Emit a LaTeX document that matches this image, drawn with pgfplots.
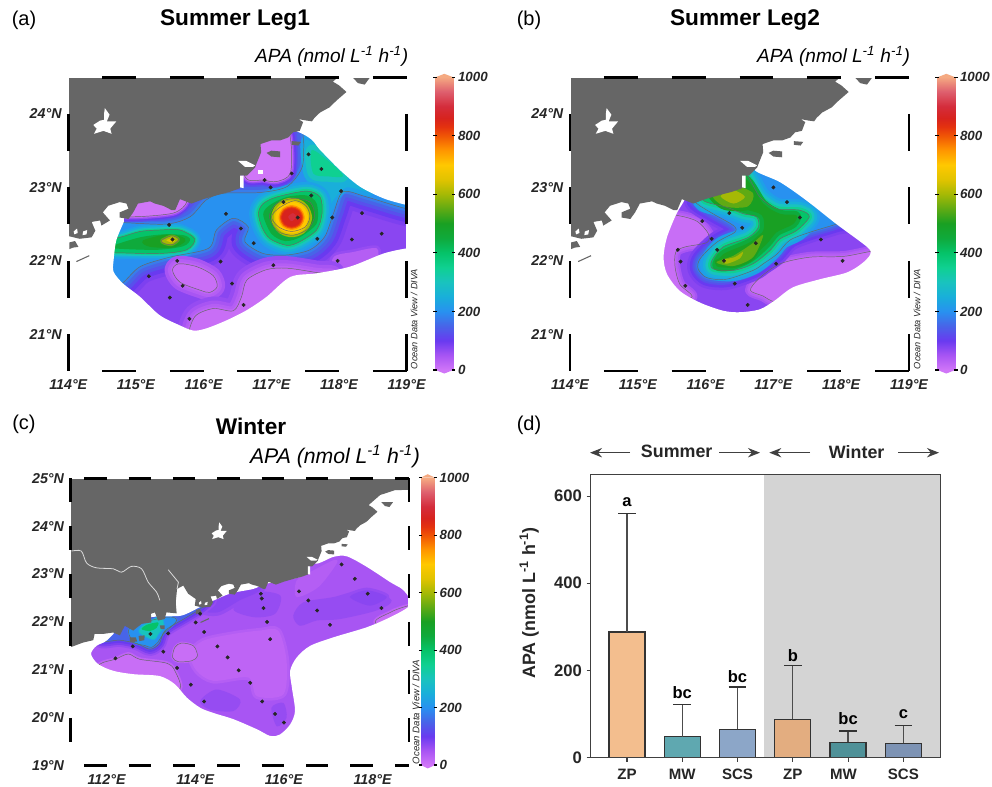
\documentclass[border=0pt]{standalone}
\usepackage{fontspec}
\setmainfont{Liberation Sans}
\usepackage{pgfplots}
\usepackage{pgfplotstable}
\pgfplotsset{compat=1.18}
\usetikzlibrary{arrows.meta}
\definecolor{c0}{RGB}{208,118,248}\definecolor{c15}{RGB}{200,110,246}\definecolor{c30}{RGB}{190,100,245}
\definecolor{c40}{RGB}{180,94,244}\definecolor{c50}{RGB}{168,85,243}\definecolor{c60}{RGB}{150,76,242}
\definecolor{c70}{RGB}{138,70,241}\definecolor{c80}{RGB}{125,64,240}\definecolor{c100}{RGB}{105,58,240}
\definecolor{c125}{RGB}{88,80,236}\definecolor{c150}{RGB}{72,100,232}\definecolor{c175}{RGB}{56,125,235}
\definecolor{c200}{RGB}{40,145,240}\definecolor{c225}{RGB}{30,160,232}\definecolor{c250}{RGB}{25,175,218}
\definecolor{c300}{RGB}{25,195,190}\definecolor{c350}{RGB}{15,208,145}\definecolor{c400}{RGB}{5,195,105}
\definecolor{c450}{RGB}{15,170,60}\definecolor{c500}{RGB}{25,160,35}\definecolor{c550}{RGB}{95,170,20}
\definecolor{c600}{RGB}{165,185,5}\definecolor{c650}{RGB}{225,195,0}\definecolor{c700}{RGB}{255,200,0}
\definecolor{c750}{RGB}{255,150,0}\definecolor{c800}{RGB}{240,85,5}\definecolor{c830}{RGB}{228,50,15}
\definecolor{c860}{RGB}{215,35,30}\definecolor{c900}{RGB}{212,45,60}\definecolor{c1000}{RGB}{245,170,130}
\definecolor{land}{RGB}{102,102,102}
\definecolor{bA}{RGB}{243,190,142}\definecolor{bB}{RGB}{95,168,176}\definecolor{bC}{RGB}{140,166,200}
\definecolor{bD}{RGB}{227,173,128}\definecolor{bE}{RGB}{79,145,152}\definecolor{bF}{RGB}{125,147,180}
\newcommand\tb[2]{\pgfplotstableread[row sep=\\]{lon lat\\ #1}#2}
% shared geography
\tb{110 21.48\\111.21 21.48\\111.47 21.57\\111.70 21.62\\111.73 21.75\\111.92 21.75\\112.15 21.78\\112.30 21.72\\112.41 21.92\\112.60 21.82\\112.79 21.96\\113.01 21.99\\113.00 22.17\\113.09 22.20\\113.16 22.03\\113.31 22.06\\113.35 22.20\\113.58 22.18\\113.56 22.41\\113.59 22.69\\113.73 22.76\\113.84 22.59\\114.01 22.48\\113.99 22.34\\114.17 22.30\\114.345 22.32\\114.40 22.41\\114.345 22.53\\114.47 22.55\\114.49 22.48\\114.615 22.55\\114.51 22.66\\114.59 22.75\\114.76 22.80\\114.86 22.78\\114.89 22.71\\114.76 22.66\\114.76 22.59\\114.89 22.57\\114.96 22.66\\115.03 22.78\\115.21 22.81\\115.28 22.78\\115.40 22.75\\115.53 22.69\\115.58 22.69\\115.65 22.84\\115.82 22.78\\115.995 22.84\\116.22 22.90\\116.39 22.94\\116.54 22.99\\116.55 23.16\\116.64 23.16\\116.76 23.27\\116.78 23.32\\116.85 23.48\\116.84 23.59\\117.0 23.64\\117.13 23.64\\117.25 23.68\\117.32 23.75\\117.42 23.77\\117.47 23.89\\117.40 23.93\\117.52 23.91\\117.60 23.90\\117.64 23.95\\117.72 24.02\\117.86 24.09\\117.96 24.18\\118.11 24.30\\118.0 24.39\\117.91 24.44\\118.17 24.65\\118.50 24.75\\118.81 24.76\\118.85 25.2\\118.85 30\\110 30\\}{\tLand}
\tb{114.54 24.08\\114.61 23.99\\114.57 23.90\\114.71 23.90\\114.62 23.80\\114.64 23.73\\114.52 23.77\\114.38 23.73\\114.42 23.80\\114.37 23.85\\114.47 23.91\\114.53 23.92\\114.53 24.01\\}{\tLake}
\tb{116.93 23.47\\117.0 23.50\\117.13 23.49\\117.13 23.41\\117.0 23.42\\}{\tIsA}
\tb{117.30 23.63\\117.44 23.62\\117.40 23.57\\117.30 23.58\\}{\tIsB}
\tb{118.20 24.50\\118.46 24.50\\118.38 24.40\\118.28 24.42\\}{\tIsD}
\tb{114.015 22.25\\114.10 22.27\\114.15 22.19\\114.07 22.18\\114.015 22.16\\}{\tIsE}
\tb{112.52 21.68\\112.66 21.68\\112.69 21.59\\112.53 21.58\\}{\tIsF}
\tb{112.72 21.71\\112.86 21.72\\112.85 21.62\\112.74 21.60\\}{\tIsG}
\tb{113.2 21.93\\113.31 21.93\\113.31 21.85\\113.22 21.85\\}{\tIsH}
\tb{116.51 23.36\\116.63 23.36\\116.76 23.30\\116.73 23.28\\116.61 23.28\\}{\tWa}
\tb{116.54 23.16\\116.59 23.16\\116.59 22.99\\116.54 23.0\\}{\tWb}
\tb{116.80 23.24\\116.87 23.24\\116.87 23.18\\116.80 23.18\\}{\tWc}
\tb{113.58 22.18\\113.56 22.41\\113.59 22.69\\113.73 22.76\\113.84 22.59\\114.01 22.48\\113.99 22.34\\113.84 22.27\\}{\tEst}
\tb{114.22 22.40\\114.28 22.42\\114.27 22.36\\114.21 22.35\\}{\tSpA}
\tb{114.08 22.40\\114.13 22.44\\114.14 22.38\\114.09 22.36\\}{\tSpB}
\tb{110 15\\125 15\\125 30\\110 30\\}{\tBig}
% panel a
\tb{116.5 28\\116.5 25.5\\116.5 24.6\\116.6 24.1\\117.50 23.71\\117.72 23.51\\118.01 23.24\\118.31 23.01\\118.66 22.85\\119.0 22.76\\119.3 22.70\\119.3 22.20\\119.0 22.17\\118.66 22.10\\118.16 21.92\\117.67 21.83\\117.28 21.78\\116.93 21.51\\116.64 21.33\\116.34 21.19\\116.04 21.08\\115.85 21.05\\115.65 21.12\\115.35 21.26\\115.06 21.51\\114.81 21.69\\114.67 21.85\\114.67 22.01\\114.71 22.28\\114.82 22.53\\114.86 22.65\\115.3 23.1\\116.0 23.6\\116.45 24.0\\116.45 24.6\\116.45 25.5\\116.45 28\\105 28\\105 15\\125 15\\125 28\\}{\tAM}
\tb{114.47 22.52\\114.81 22.52\\115.45 22.50\\115.80 22.60\\116.04 22.83\\116.29 22.92\\116.83 22.93\\117.23 23.01\\117.45 23.26\\117.48 23.55\\117.50 23.83\\117.92 23.83\\119.4 22.83\\119.4 22.68\\119.0 22.71\\118.41 22.87\\118.06 22.94\\117.92 22.65\\117.79 22.33\\117.57 22.15\\117.23 22.08\\116.88 22.10\\116.61 22.26\\116.66 22.46\\116.44 22.58\\116.19 22.42\\116.07 22.17\\115.50 22.05\\115.06 21.92\\114.79 21.69\\114.47 21.55\\}{\tAR}
\tb{117.52 23.65\\118.11 23.19\\118.46 22.94\\118.11 23.0\\117.92 22.83\\117.82 22.69\\117.74 22.96\\117.55 23.15\\}{\tANEa}
\tb{117.60 23.51\\117.92 23.30\\118.06 23.15\\117.84 23.15\\117.62 23.19\\}{\tANEb}
\tb{114.42 22.26\\114.76 22.32\\115.06 22.40\\115.35 22.42\\115.65 22.42\\115.87 22.30\\115.75 22.15\\115.35 22.10\\114.69 22.11\\114.42 22.11\\}{\tAWa}
\tb{114.67 22.21\\115.06 22.32\\115.40 22.36\\115.70 22.35\\115.80 22.29\\115.70 22.20\\115.31 22.15\\114.67 22.17\\}{\tAWb}
\tb{115.11 22.27\\115.45 22.35\\115.67 22.32\\115.72 22.27\\115.55 22.19\\115.21 22.20\\}{\tAWc}
\tb{115.38 22.28\\115.53 22.34\\115.63 22.29\\115.53 22.22\\115.41 22.24\\}{\tAWd}
\tb{115.45 22.28\\115.54 22.31\\115.58 22.28\\115.53 22.25\\}{\tAWe}
\tb{116.81 22.65\\116.88 22.78\\117.08 22.87\\117.52 22.95\\117.72 22.87\\117.75 22.65\\117.67 22.42\\117.42 22.26\\117.23 22.21\\116.98 22.30\\116.86 22.46\\}{\tAEa}
\tb{116.88 22.63\\116.98 22.76\\117.23 22.87\\117.52 22.89\\117.67 22.78\\117.67 22.51\\117.42 22.32\\117.2 22.27\\117.0 22.37\\}{\tAEb}
\tb{116.97 22.60\\117.08 22.78\\117.33 22.85\\117.57 22.80\\117.64 22.62\\117.55 22.44\\117.33 22.35\\117.10 22.40\\}{\tAEc}
\tb{117.0 22.60\\117.13 22.73\\117.35 22.82\\117.52 22.74\\117.57 22.60\\117.50 22.46\\117.30 22.40\\117.11 22.46\\}{\tAEd}
\tb{117.445 22.59\\117.40 22.68\\117.30 22.715\\117.20 22.68\\117.155 22.59\\117.20 22.50\\117.30 22.465\\117.40 22.50\\}{\tACo}
\tb{117.37 22.6\\117.32 22.65\\117.25 22.6\\117.3 22.54\\}{\tACi}
\tb{115.54 21.87\\115.63 21.96\\115.90 21.92\\116.14 21.80\\116.20 21.65\\116.09 21.57\\115.95 21.60\\115.65 21.71\\}{\tASa}
\tb{117.23 21.90\\116.93 21.88\\116.64 21.74\\116.56 21.51\\116.44 21.32\\116.14 21.35\\115.87 21.24\\115.82 20.96\\116.44 20.96\\117.42 21.46\\117.92 21.80\\117.67 21.84\\}{\tASb}
\tb{117.92 22.05\\118.21 22.12\\118.56 22.17\\118.51 21.96\\117.92 21.78\\}{\tASc}
\tb{114.76 22.65\\114.96 22.60\\115.55 22.65\\115.75 22.80\\115.65 22.96\\114.96 23.01\\}{\tANa}
\tb{116.61 23.15\\116.88 23.10\\117.08 23.08\\117.28 23.19\\117.29 23.60\\117.18 23.83\\116.54 23.83\\}{\tANb}
\tb{117.55 23.45\\117.74 23.25\\117.30 23.19\\116.90 23.10\\116.99 23.0\\118.03 22.95\\117.59 22.89\\117.18 22.80\\116.33 22.64\\118.34 22.65\\117.39 22.59\\117.90 22.59\\115.49 22.49\\116.55 22.44\\118.63 22.37\\115.54 22.29\\117.68 22.30\\118.19 22.29\\116.74 22.24\\115.61 22.0\\116.25 21.99\\117.98 22.0\\117.03 21.94\\115.19 21.79\\116.42 21.69\\115.69 21.66\\115.50 21.50\\116.59 21.40\\115.79 21.21\\}{\tAS}
% panel b
\tb{116.5 28\\116.5 25.5\\116.5 24.6\\116.6 24.1\\116.73 23.4\\116.73 23.23\\117.10 23.07\\117.49 22.82\\117.93 22.50\\118.38 22.19\\118.43 22.09\\118.30 21.96\\118.08 21.84\\117.69 21.75\\117.29 21.64\\117.02 21.46\\116.80 21.34\\116.51 21.30\\116.26 21.32\\115.92 21.43\\115.62 21.59\\115.43 21.82\\115.38 22.05\\115.43 22.32\\115.57 22.64\\115.70 22.85\\115.9 23.3\\116.3 24.0\\116.45 24.6\\116.45 25.5\\116.45 28\\105 28\\105 15\\125 15\\125 28\\}{\tBM}
\tb{115.57 22.62\\115.87 22.54\\116.04 22.37\\116.02 22.25\\115.70 22.19\\115.56 22.12\\115.55 21.91\\115.62 21.68\\115.79 21.50\\115.18 21.45\\115.18 22.64\\}{\tBPa}
\tb{118.87 22.14\\118.03 22.06\\117.54 22.05\\117.10 21.96\\116.80 21.77\\116.66 21.60\\116.85 21.52\\117.05 21.43\\117.88 21.23\\118.87 21.45\\}{\tBPb}
\tb{115.84 22.87\\115.87 22.78\\116.11 22.64\\116.41 22.48\\116.43 22.39\\116.16 22.25\\115.92 22.03\\115.89 21.89\\116.02 21.77\\116.31 21.75\\116.70 21.87\\116.85 21.96\\117.05 22.09\\117.24 22.28\\117.54 22.39\\117.93 22.50\\118.37 22.64\\117.39 23.51\\115.92 23.28\\}{\tBR}
\tb{116.61 23.17\\116.80 22.87\\117.05 22.71\\117.39 22.69\\117.53 22.60\\117.34 22.41\\117.10 22.30\\116.95 22.14\\116.70 21.96\\116.41 21.87\\116.11 21.89\\116.09 22.0\\116.26 22.19\\116.63 22.32\\116.78 22.46\\116.75 22.60\\116.56 22.64\\116.31 22.73\\115.97 22.82\\116.01 23.0\\116.41 23.28\\}{\tBRf}
\tb{116.11 22.87\\116.16 23.05\\116.58 23.12\\116.85 22.78\\117.10 22.64\\117.34 22.62\\117.29 22.50\\117.05 22.39\\116.90 22.23\\116.65 22.03\\116.36 21.92\\116.16 21.93\\116.26 22.09\\116.65 22.25\\116.85 22.41\\116.83 22.62\\116.56 22.71\\}{\tBG}
\tb{116.10 22.90\\116.41 23.02\\116.70 22.92\\116.62 22.74\\116.28 22.74\\}{\tBTa}
\tb{116.22 22.88\\116.41 22.96\\116.58 22.87\\116.41 22.78\\}{\tBTb}
\tb{116.16 21.98\\116.41 22.07\\116.68 22.23\\116.85 22.35\\116.70 22.05\\116.41 21.93\\}{\tBUa}
\tb{116.24 22.01\\116.43 22.05\\116.55 22.12\\116.50 22.03\\116.31 21.96\\}{\tBUb}
\tb{117.0 23.0\\117.2 22.8\\117.39 22.59\\117.70 22.29\\118.02 22.0\\117.04 21.96\\116.74 22.24\\116.54 22.45\\116.35 22.65\\115.95 22.54\\116.09 22.30\\116.17 22.15\\116.27 22.0\\115.59 22.15\\115.63 21.99\\115.70 21.66\\116.43 21.69\\116.62 21.40\\}{\tBS}
% panel c
\tb{116.65 28\\116.65 25.6\\116.65 24.6\\116.65 23.6\\116.7 23.22\\117.12 23.36\\117.42 23.37\\117.87 23.15\\118.40 22.83\\118.66 22.69\\118.81 22.52\\118.81 22.32\\118.40 22.10\\117.87 21.89\\117.12 21.68\\116.59 21.50\\116.29 21.26\\116.14 20.98\\116.18 20.63\\116.25 20.14\\116.14 19.86\\115.91 19.65\\115.69 19.62\\115.39 19.76\\114.86 19.97\\114.41 20.10\\114.11 20.21\\113.81 20.42\\113.54 20.70\\113.20 20.87\\112.60 20.91\\112.15 20.98\\111.81 21.12\\111.65 21.33\\111.77 21.50\\112.0 21.61\\112.4 21.95\\113.0 22.1\\113.5 22.12\\113.75 22.15\\114.26 22.38\\114.78 22.59\\115.31 22.69\\115.61 22.8\\116.36 22.94\\116.55 23.11\\116.6 23.6\\116.6 24.6\\116.6 25.6\\116.6 28\\105 28\\105 15\\125 15\\125 28\\}{\tCM}
\tb{114.86 22.27\\115.39 22.62\\115.92 22.55\\115.80 22.17\\115.32 22.10\\}{\tCDa}
\tb{116.21 22.13\\116.44 22.41\\117.12 22.52\\117.87 22.69\\118.43 22.45\\118.09 22.24\\117.26 22.06\\116.74 22.03\\116.36 21.92\\}{\tCDb}
\tb{117.49 22.52\\117.87 22.66\\118.32 22.52\\117.94 22.34\\}{\tCDc}
\tb{114.11 20.35\\114.48 20.59\\115.01 20.38\\114.86 20.14\\114.33 20.17\\}{\tCDd}
\tb{115.72 20.21\\115.99 20.31\\116.06 20.0\\115.84 19.82\\}{\tCDe}
\tb{114.18 21.61\\114.86 21.75\\115.46 21.82\\115.87 21.82\\116.06 21.19\\115.99 20.49\\115.39 20.45\\115.20 20.84\\114.41 20.77\\114.03 20.98\\113.88 21.33\\}{\tCLa}
\tb{116.29 22.87\\116.67 23.08\\117.12 23.29\\117.19 23.22\\116.78 22.73\\116.29 22.52\\}{\tCLb}
\tb{111.85 21.12\\112.19 21.22\\112.49 21.33\\112.75 21.22\\113.35 21.14\\113.54 20.98\\113.62 20.57\\112.60 20.49\\111.70 20.84\\}{\tCPa}
\tb{113.49 21.26\\113.54 21.47\\113.69 21.56\\113.96 21.50\\114.05 21.29\\113.92 21.19\\113.62 21.17\\}{\tCPb}
\tb{118.09 21.96\\118.40 22.20\\118.81 22.34\\119.37 22.45\\119.37 21.61\\}{\tCPc}
\tb{114.1 22.3\\114.5 22.2\\115 22.45\\115.45 22.65\\115.5 22.9\\114.5 22.9\\}{\tCCo}
\tb{111.85 21.64\\112.30 21.62\\112.68 21.55\\112.98 21.43\\113.19 21.55\\113.32 21.82\\113.81 22.10\\114.18 22.32\\114.26 22.52\\112.60 22.45\\}{\tCBa}
\tb{112.60 21.58\\112.86 21.51\\113.01 21.47\\113.16 21.58\\113.28 21.75\\113.58 22.03\\113.35 22.10\\112.53 21.89\\}{\tCBb}
\tb{112.75 21.78\\113.05 21.64\\113.16 21.75\\113.28 21.92\\113.20 22.10\\112.83 21.92\\}{\tCBc}
\tb{112.79 21.85\\112.98 21.81\\113.13 21.88\\113.16 21.99\\112.90 21.94\\}{\tCBd}
\tb{117.30 23.20\\117.60 22.90\\117.89 22.59\\118.20 22.29\\116.34 22.64\\116.55 22.45\\116.75 22.24\\117.04 21.94\\115.48 22.59\\115.50 22.49\\115.54 22.29\\115.62 22.0\\115.69 21.64\\114.11 22.17\\114.01 21.99\\114.20 21.79\\113.39 21.76\\112.99 21.75\\112.59 21.49\\113.28 21.38\\112.20 21.24\\114.50 21.49\\114.73 21.26\\113.59 21.04\\114.98 20.99\\115.24 20.73\\113.90 20.69\\114.20 20.34\\115.51 20.34\\115.80 20.08\\116.0 19.90\\}{\tCS}
\tb{111.21 23.48\\111.43 23.48\\111.55 23.23\\111.77 23.13\\112.15 23.11\\112.34 23.04\\112.56 23.16\\112.79 23.11\\112.94 22.83\\113.13 22.62\\113.20 22.45\\}{\tRa}
\tb{113.39 23.09\\113.62 22.83\\113.59 22.69\\}{\tRb}
% drawing helpers
\newcommand\gl[3]{\addplot[smooth cycle,draw=#2,fill=#2,line width=#3,line join=round,forget plot] table[x=lon,y=lat]{#1};}
\newcommand\fl[2]{\addplot[smooth cycle,draw=none,fill=#2,forget plot] table[x=lon,y=lat]{#1};}
\newcommand\ct[1]{\addplot[smooth cycle,draw=black!60,line width=.35pt,forget plot] table[x=lon,y=lat]{#1};}
\newcommand\geo{%
\addplot[fill=white,draw=none,forget plot] table[x=lon,y=lat]{\tEst} --cycle;
\addplot[fill=land,draw=none,forget plot] table[x=lon,y=lat]{\tLand} --cycle;
\addplot[fill=land,draw=none,forget plot] table[x=lon,y=lat]{\tIsA} --cycle;
\addplot[fill=land,draw=none,forget plot] table[x=lon,y=lat]{\tIsB} --cycle;
\addplot[fill=land,draw=none,forget plot] table[x=lon,y=lat]{\tIsD} --cycle;
\addplot[fill=land,draw=none,forget plot] table[x=lon,y=lat]{\tIsE} --cycle;
\addplot[fill=land,draw=none,forget plot] table[x=lon,y=lat]{\tIsF} --cycle;
\addplot[fill=land,draw=none,forget plot] table[x=lon,y=lat]{\tIsG} --cycle;
\addplot[fill=land,draw=none,forget plot] table[x=lon,y=lat]{\tIsH} --cycle;
\addplot[fill=white,draw=none,forget plot] table[x=lon,y=lat]{\tLake} --cycle;
\addplot[fill=white,draw=none,forget plot] table[x=lon,y=lat]{\tWa} --cycle;
\addplot[fill=white,draw=none,forget plot] table[x=lon,y=lat]{\tWb} --cycle;
\addplot[fill=white,draw=none,forget plot] table[x=lon,y=lat]{\tSpA} --cycle;
\addplot[fill=white,draw=none,forget plot] table[x=lon,y=lat]{\tSpB} --cycle;
\addplot[land,line width=.8pt,forget plot] coordinates {(114.12,21.99)(114.31,22.07)};
}
\newcommand\st[1]{\addplot[only marks,mark=*,mark size=1.25pt,color=black!85,forget plot] table[x=lon,y=lat]{#1};}
\pgfplotsset{
 colormap={odv}{rgb255(0pt)=(208,118,248) rgb255(50pt)=(168,85,243) rgb255(100pt)=(105,58,240) rgb255(150pt)=(72,100,232) rgb255(200pt)=(40,145,240) rgb255(250pt)=(25,175,218) rgb255(300pt)=(25,195,190) rgb255(350pt)=(15,208,145) rgb255(400pt)=(5,195,105) rgb255(450pt)=(15,170,60) rgb255(500pt)=(25,160,35) rgb255(550pt)=(95,170,20) rgb255(600pt)=(165,185,5) rgb255(650pt)=(225,195,0) rgb255(700pt)=(255,200,0) rgb255(750pt)=(255,150,0) rgb255(800pt)=(240,85,5) rgb255(830pt)=(228,50,15) rgb255(860pt)=(215,35,30) rgb255(900pt)=(212,45,60) rgb255(950pt)=(222,95,110) rgb255(1000pt)=(245,170,130)},
 base/.style={hide axis,scale only axis,anchor=south west},
 over/.style={scale only axis,anchor=south west,clip=false,axis line style={draw=none},major tick length=0pt,
   tick label style={font=\bfseries\itshape\fontsize{10.7}{12}\selectfont,text=black!85},xticklabel style={yshift=-3pt},yticklabel style={xshift=-1.5pt}},
 fr/.style={black,line width=1.9pt,forget plot,unbounded coords=jump},
 rim/.style={white,line width=.9pt,forget plot},
 cb/.style={scale only axis,anchor=south west,clip=false,axis line style={draw=none},major tick length=0pt,xmin=0,xmax=1,ymin=0,ymax=1000,xtick=\empty,
   ytick={0,200,400,600,800,1000},yticklabels={0,200,400,600,800,1000},ytick pos=right,
   tick label style={font=\bfseries\itshape\fontsize{10}{12}\selectfont,text=black!85}},
 br/.style={ybar,bar width=27pt,bar shift=0pt,fill=#1,draw=black!80,line width=.9pt,forget plot,
   error bars/y dir=plus,error bars/y explicit,
   error bars/error mark options={rotate=90,mark size=6.6pt,line width=.9pt,black!80},
   error bars/error bar style={line width=.9pt,black!70}},
}
\newcommand\cbar{%
\addplot[surf,shader=interp,mesh/cols=2,point meta=y,forget plot] coordinates {(0,0)(1,0)(0,1000)(1,1000)};
\addplot[fill=c1000,draw=none,forget plot] coordinates {(0,1000)(.5,1012)(1,1000)} --cycle;
\addplot[fill=c0,draw=none,forget plot] coordinates {(0,0)(.5,-12)(1,0)} --cycle;
\addplot[black,line width=.8pt,forget plot,unbounded coords=jump] coordinates {(-.12,0)(.08,0)(nan,nan)(.92,0)(1.12,0)(nan,nan)(-.12,200)(.08,200)(nan,nan)(.92,200)(1.12,200)(nan,nan)(-.12,400)(.08,400)(nan,nan)(.92,400)(1.12,400)(nan,nan)(-.12,600)(.08,600)(nan,nan)(.92,600)(1.12,600)(nan,nan)(-.12,800)(.08,800)(nan,nan)(.92,800)(1.12,800)(nan,nan)(-.12,1000)(.08,1000)(nan,nan)(.92,1000)(1.12,1000)};
}
\newcommand\T[4]{\node[#3] at ({#1*0.75},{(787-#2)*0.75}) {#4};}
\newcommand\apa{\itshape APA (nmol L\textsuperscript{-1} h\textsuperscript{-1})}
\begin{document}
\begin{tikzpicture}[x=1pt,y=1pt]
\path[use as bounding box,fill=white] (0,0) rectangle (744,590.25);
%---------------- panel a
\begin{axis}[base,at={(51.2pt,312pt)},width=253.8pt,height=220.3pt,xmin=114,xmax=119,ymin=20.5,ymax=24.5]
\fl{\tBig}{c70}
\gl{\tASc}{c60}{4pt}\fl{\tASc}{c40}
\gl{\tAR}{c80}{26pt}\gl{\tAR}{c100}{20pt}\gl{\tAR}{c125}{14pt}\gl{\tAR}{c150}{9pt}\gl{\tAR}{c175}{4pt}\fl{\tAR}{c200}
\gl{\tANEa}{c225}{6pt}\fl{\tANEa}{c250}\gl{\tANEb}{c250}{14pt}\gl{\tANEb}{c300}{8pt}\fl{\tANEb}{c350}
\gl{\tAWa}{c225}{9pt}\gl{\tAWa}{c250}{6.5pt}\gl{\tAWa}{c300}{4pt}\gl{\tAWa}{c350}{2pt}\fl{\tAWa}{c400}
\fl{\tAWb}{c450}\fl{\tAWc}{c500}\gl{\tAWc}{c500}{1pt}\fl{\tAWd}{c600}\gl{\tAWd}{c550}{2pt}\fl{\tAWd}{c600}\fl{\tAWe}{c650}
\gl{\tAEa}{c225}{14pt}\gl{\tAEa}{c250}{10pt}\gl{\tAEa}{c300}{6.4pt}\gl{\tAEa}{c350}{3.2pt}\fl{\tAEa}{c400}
\fl{\tAEb}{c450}\fl{\tAEc}{c500}\fl{\tAEd}{c550}
\gl{\tACo}{c600}{16pt}\gl{\tACo}{c650}{12.4pt}\gl{\tACo}{c700}{10pt}\gl{\tACo}{c750}{5pt}\gl{\tACo}{c800}{3pt}\gl{\tACo}{c830}{1.4pt}\fl{\tACo}{c860}\fl{\tACi}{c900}
\gl{\tASa}{c50}{12pt}\gl{\tASa}{c40}{7pt}\gl{\tASa}{c30}{3pt}\fl{\tASa}{c15}
\gl{\tASb}{c60}{18pt}\gl{\tASb}{c50}{12pt}\gl{\tASb}{c40}{7pt}\gl{\tASb}{c30}{3pt}\fl{\tASb}{c15}
\gl{\tANa}{c125}{8pt}\gl{\tANa}{c100}{6pt}\gl{\tANa}{c60}{4pt}\gl{\tANa}{c30}{2pt}\fl{\tANa}{c0}
\gl{\tANb}{c125}{9pt}\gl{\tANb}{c100}{7pt}\gl{\tANb}{c60}{4pt}\gl{\tANb}{c30}{2pt}\fl{\tANb}{c0}
\ct{\tAR}\ct{\tAWa}\ct{\tAWd}\ct{\tAEa}\ct{\tAEc}\ct{\tAEd}\ct{\tASa}\ct{\tASb}\ct{\tANa}\ct{\tANb}
\addplot[smooth,fill=white,draw=none,forget plot] table[x=lon,y=lat]{\tAM};
\geo
\addplot[fill=white,draw=none,forget plot] table[x=lon,y=lat]{\tWc} --cycle;
\st{\tAS}
\end{axis}
\begin{axis}[over,at={(51.2pt,312pt)},width=253.8pt,height=220.3pt,xmin=114,xmax=119,ymin=20.5,ymax=24.5,
 xtick={114,...,119},xticklabels={114°E,115°E,116°E,117°E,118°E,119°E},ytick={21,22,23,24},yticklabels={21°N,22°N,23°N,24°N}]
\addplot[rim] coordinates {(114,20.5)(119,20.5)(119,24.5)(114,24.5)(114,20.5)};
\addplot[fr] coordinates {(114.5,24.5)(115,24.5)(nan,nan)(115.5,24.5)(116,24.5)(nan,nan)(116.5,24.5)(117,24.5)(nan,nan)(117.5,24.5)(118,24.5)(nan,nan)(118.5,24.5)(119,24.5)};
\addplot[fr] coordinates {(114.5,20.5)(115,20.5)(nan,nan)(115.5,20.5)(116,20.5)(nan,nan)(116.5,20.5)(117,20.5)(nan,nan)(117.5,20.5)(118,20.5)(nan,nan)(118.5,20.5)(119,20.5)};
\addplot[fr] coordinates {(114,24)(114,23.5)(nan,nan)(114,23)(114,22.5)(nan,nan)(114,22)(114,21.5)(nan,nan)(114,21)(114,20.5)};
\addplot[fr] coordinates {(119,24)(119,23.5)(nan,nan)(119,23)(119,22.5)(nan,nan)(119,22)(119,21.5)(nan,nan)(119,21)(119,20.5)};
\end{axis}
\begin{axis}[cb,at={(326.5pt,312.75pt)},width=13.5pt,height=219.5pt]\cbar\end{axis}
%---------------- panel b
\begin{axis}[base,at={(427.5pt,312pt)},width=254.25pt,height=220.3pt,xmin=114,xmax=119,ymin=20.5,ymax=24.5]
\fl{\tBig}{c70}
\gl{\tBPa}{c50}{8pt}\gl{\tBPa}{c40}{5pt}\gl{\tBPa}{c30}{2pt}\fl{\tBPa}{c15}
\gl{\tBPb}{c50}{8pt}\gl{\tBPb}{c40}{5pt}\gl{\tBPb}{c30}{2pt}\fl{\tBPb}{c15}
\gl{\tBR}{c80}{16pt}\gl{\tBR}{c100}{12pt}\gl{\tBR}{c125}{8pt}\gl{\tBR}{c150}{5pt}\gl{\tBR}{c175}{2pt}\fl{\tBR}{c200}
\gl{\tBRf}{c225}{16pt}\gl{\tBRf}{c250}{12pt}\gl{\tBRf}{c300}{8pt}\gl{\tBRf}{c350}{4pt}\fl{\tBRf}{c400}
\gl{\tBG}{c450}{6pt}\fl{\tBG}{c500}
\gl{\tBTa}{c500}{5pt}\fl{\tBTa}{c550}\gl{\tBTb}{c550}{2pt}\fl{\tBTb}{c600}
\gl{\tBUa}{c500}{3pt}\fl{\tBUa}{c550}\fl{\tBUb}{c600}
\ct{\tBR}\ct{\tBRf}\ct{\tBPa}\ct{\tBPb}
\addplot[smooth,fill=white,draw=none,forget plot] table[x=lon,y=lat]{\tBM};
\geo
\st{\tBS}
\end{axis}
\begin{axis}[over,at={(427.5pt,312pt)},width=254.25pt,height=220.3pt,xmin=114,xmax=119,ymin=20.5,ymax=24.5,
 xtick={114,...,119},xticklabels={114°E,115°E,116°E,117°E,118°E,119°E},ytick={21,22,23,24},yticklabels={21°N,22°N,23°N,24°N}]
\addplot[rim] coordinates {(114,20.5)(119,20.5)(119,24.5)(114,24.5)(114,20.5)};
\addplot[fr] coordinates {(114.5,24.5)(115,24.5)(nan,nan)(115.5,24.5)(116,24.5)(nan,nan)(116.5,24.5)(117,24.5)(nan,nan)(117.5,24.5)(118,24.5)(nan,nan)(118.5,24.5)(119,24.5)};
\addplot[fr] coordinates {(114.5,20.5)(115,20.5)(nan,nan)(115.5,20.5)(116,20.5)(nan,nan)(116.5,20.5)(117,20.5)(nan,nan)(117.5,20.5)(118,20.5)(nan,nan)(118.5,20.5)(119,20.5)};
\addplot[fr] coordinates {(114,24)(114,23.5)(nan,nan)(114,23)(114,22.5)(nan,nan)(114,22)(114,21.5)(nan,nan)(114,21)(114,20.5)};
\addplot[fr] coordinates {(119,24)(119,23.5)(nan,nan)(119,23)(119,22.5)(nan,nan)(119,22)(119,21.5)(nan,nan)(119,21)(119,20.5)};
\end{axis}
\begin{axis}[cb,at={(703pt,312.75pt)},width=13.5pt,height=219.5pt]\cbar\end{axis}
%---------------- panel c
\begin{axis}[base,at={(53pt,16pt)},width=253.7pt,height=215.55pt,xmin=111.19,xmax=118.82,ymin=19,ymax=25]
\fl{\tBig}{c50}
\gl{\tCLa}{c40}{4pt}\fl{\tCLa}{c30}\fl{\tCLb}{c40}
\fl{\tCDa}{c60}\gl{\tCCo}{c60}{5pt}\fl{\tCCo}{c70}
\fl{\tCDb}{c60}\gl{\tCDc}{c60}{4pt}\fl{\tCDc}{c70}
\fl{\tCDd}{c60}\fl{\tCDe}{c60}
\gl{\tCPa}{c30}{3pt}\fl{\tCPa}{c15}\gl{\tCPb}{c30}{2pt}\fl{\tCPb}{c15}\gl{\tCPc}{c30}{3pt}\fl{\tCPc}{c15}
\gl{\tCBa}{c60}{10pt}\gl{\tCBa}{c80}{7pt}\gl{\tCBa}{c100}{4pt}\gl{\tCBa}{c125}{1.5pt}\fl{\tCBa}{c150}
\gl{\tCBb}{c175}{1.5pt}\fl{\tCBb}{c200}\gl{\tCBc}{c250}{1.5pt}\fl{\tCBc}{c300}\fl{\tCBd}{c400}
\ct{\tCPa}\ct{\tCPb}\ct{\tCPc}\ct{\tCBa}\ct{\tCBb}
\addplot[smooth,fill=white,draw=none,forget plot] table[x=lon,y=lat]{\tCM};
\geo
\addplot[white!75!land,line width=.6pt,smooth,forget plot] table[x=lon,y=lat]{\tRa};
\addplot[white!75!land,line width=.6pt,forget plot] table[x=lon,y=lat]{\tRb};
\st{\tCS}
\end{axis}
\begin{axis}[over,at={(53pt,16pt)},width=253.7pt,height=215.55pt,xmin=111.19,xmax=118.82,ymin=19,ymax=25,
 xtick={112,114,116,118},xticklabels={112°E,114°E,116°E,118°E},ytick={19,...,25},yticklabels={19°N,20°N,21°N,22°N,23°N,24°N,25°N}]
\addplot[rim] coordinates {(111.19,19)(118.82,19)(118.82,25)(111.19,25)(111.19,19)};
\addplot[fr] coordinates {(111.5,25)(112,25)(nan,nan)(112.5,25)(113,25)(nan,nan)(113.5,25)(114,25)(nan,nan)(114.5,25)(115,25)(nan,nan)(115.5,25)(116,25)(nan,nan)(116.5,25)(117,25)(nan,nan)(117.5,25)(118,25)(nan,nan)(118.5,25)(118.82,25)};
\addplot[fr] coordinates {(111.5,19)(112,19)(nan,nan)(112.5,19)(113,19)(nan,nan)(113.5,19)(114,19)(nan,nan)(114.5,19)(115,19)(nan,nan)(115.5,19)(116,19)(nan,nan)(116.5,19)(117,19)(nan,nan)(117.5,19)(118,19)(nan,nan)(118.5,19)(118.82,19)};
\addplot[fr] coordinates {(111.19,25)(111.19,24.5)(nan,nan)(111.19,24)(111.19,23.5)(nan,nan)(111.19,23)(111.19,22.5)(nan,nan)(111.19,22)(111.19,21.5)(nan,nan)(111.19,21)(111.19,20.5)(nan,nan)(111.19,20)(111.19,19.5)};
\addplot[fr] coordinates {(118.82,25)(118.82,24.5)(nan,nan)(118.82,24)(118.82,23.5)(nan,nan)(118.82,23)(118.82,22.5)(nan,nan)(118.82,22)(118.82,21.5)(nan,nan)(118.82,21)(118.82,20.5)(nan,nan)(118.82,20)(118.82,19.5)};
\end{axis}
\begin{axis}[cb,at={(315.5pt,16.5pt)},width=10.7pt,height=215.5pt]\cbar\end{axis}
%---------------- panel d
\begin{axis}[scale only axis,anchor=south west,at={(443pt,22pt)},width=262.5pt,height=212.55pt,
 xmin=-0.657,xmax=5.675,ymin=0,ymax=650,axis on top,axis line style={black!75,line width=.9pt},
 xtick={0,...,5},xticklabels={ZP,MW,SCS,ZP,\hspace*{-7pt}MW,SCS},ytick={0,200,400,600},yticklabels={0,200,400,600},
 xtick pos=bottom,ytick pos=left,tick align=outside,major tick length=3pt,tick style={black!75,line width=.8pt},
 xticklabel style={font=\bfseries\fontsize{11.3}{13}\selectfont,text=black!85,yshift=-2pt},
 yticklabel style={font=\bfseries\fontsize{12.5}{14}\selectfont,text=black!85},
 ylabel={\textbf{APA (nmol L\textsuperscript{-1} h\textsuperscript{-1})}},ylabel style={font=\fontsize{13.4}{15}\selectfont,text=black!85,at={(axis description cs:-.176,.546)},anchor=center}]
\addplot[fill=black!17,draw=none,forget plot] coordinates {(2.479,0)(5.675,0)(5.675,650)(2.479,650)} --cycle;
\addplot[br=bA] coordinates {(0,288) +- (0,272)};
\addplot[br=bB] coordinates {(1,48) +- (0,74)};
\addplot[br=bC] coordinates {(2,65) +- (0,97)};
\addplot[br=bD] coordinates {(3,88) +- (0,123)};
\addplot[br=bE] coordinates {(4,35) +- (0,26)};
\addplot[br=bF] coordinates {(5,33) +- (0,40)};
\node[font=\bfseries\fontsize{12.4}{14}\selectfont] at (axis cs:0,585) {a};
\node[font=\bfseries\fontsize{12.4}{14}\selectfont] at (axis cs:1,149) {bc};
\node[font=\bfseries\fontsize{12.4}{14}\selectfont] at (axis cs:2,186) {bc};
\node[font=\bfseries\fontsize{12.4}{14}\selectfont] at (axis cs:3,235) {b};
\node[font=\bfseries\fontsize{12.4}{14}\selectfont] at (axis cs:4,89) {bc};
\node[font=\bfseries\fontsize{12.4}{14}\selectfont] at (axis cs:5,99) {c};
\end{axis}
%---------------- text
\def\ttl{\bfseries\fontsize{17}{20}\selectfont}
\def\pl{\fontsize{15}{18}\selectfont}
\T{24}{20}{font=\pl}{(a)}\T{529}{20}{font=\pl}{(b)}\T{24}{424}{font=\pl}{(c)}\T{529}{425}{font=\pl}{(d)}
\T{235}{20}{font=\ttl}{Summer Leg1}\T{745}{20}{font=\ttl}{Summer Leg2}\T{251}{426}{font=\ttl}{Winter}
\T{331.7}{56.7}{font=\fontsize{14.3}{16}\selectfont}{\apa}
\T{833.5}{56.7}{font=\fontsize{14.3}{16}\selectfont}{\apa}
\T{335}{456.7}{font=\fontsize{15.9}{18}\selectfont}{\apa}
\T{414}{319}{rotate=90,font=\itshape\fontsize{6.9}{8}\selectfont,text=black!85}{Ocean Data View / DIVA}
\T{917}{319}{rotate=90,font=\itshape\fontsize{6.9}{8}\selectfont,text=black!85}{Ocean Data View / DIVA}
\T{416}{712}{rotate=90,font=\itshape\fontsize{7.2}{8}\selectfont,text=black!85}{Ocean Data View / DIVA}
\T{676.7}{451.7}{font=\bfseries\fontsize{13.4}{15}\selectfont,text=black!85}{Summer}
\T{856.7}{451.7}{font=\bfseries\fontsize{13.4}{15}\selectfont,text=black!85}{Winter}
\draw[black!75,line width=1pt,-{Stealth[length=9pt,width=7pt]}] ({630*.75},{(787-452.7)*.75}) -- ({590*.75},{(787-452.7)*.75});
\draw[black!75,line width=1pt,-{Stealth[length=9pt,width=7pt]}] ({719.3*.75},{(787-452.7)*.75}) -- ({760*.75},{(787-452.7)*.75});
\draw[black!75,line width=1pt,-{Stealth[length=9pt,width=7pt]}] ({810*.75},{(787-452.7)*.75}) -- ({769.3*.75},{(787-452.7)*.75});
\draw[black!75,line width=1pt,-{Stealth[length=9pt,width=7pt]}] ({898*.75},{(787-452.7)*.75}) -- ({939*.75},{(787-452.7)*.75});
\end{tikzpicture}
\end{document}
